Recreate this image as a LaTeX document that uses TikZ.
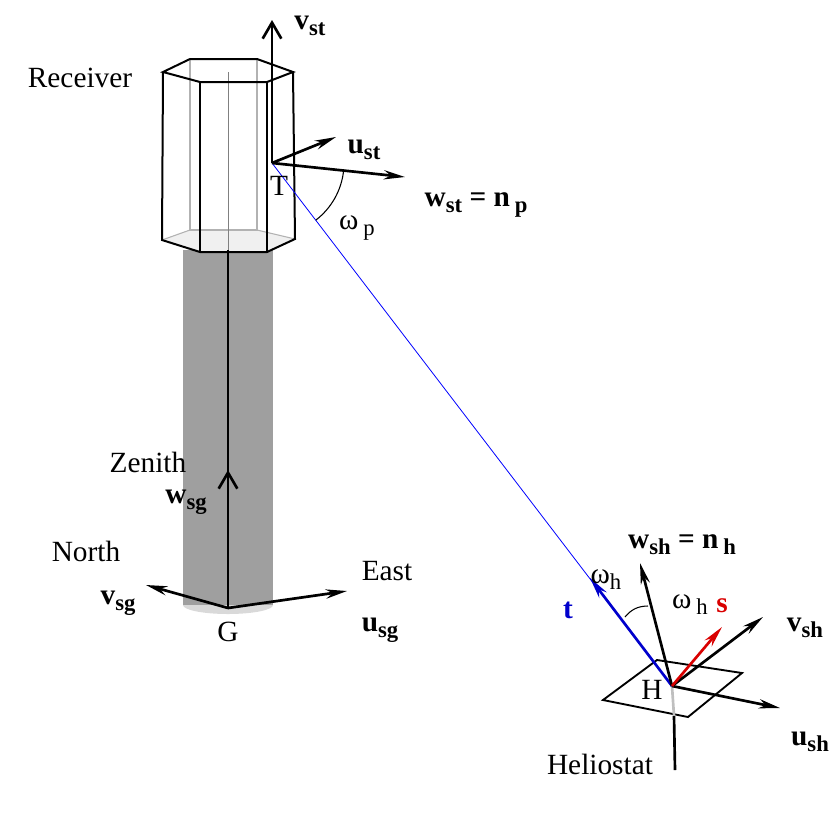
\documentclass[tikz,border=0pt]{standalone}
\usepackage{fontspec}
\setmainfont{Liberation Serif}
\usetikzlibrary{arrows.meta,calc}
\newcommand{\sbx}[1]{\raisebox{-0.45ex}{\fontsize{17}{20}\selectfont #1}}
\begin{document}
\begin{tikzpicture}[x=0.75pt,y=-0.75pt,
  vec/.style={line width=2pt,-{Stealth[length=16pt,width=7pt]}},
  bar/.style={line width=2pt,-{Straight Barb[length=12pt,width=14pt,line width=2pt]}},
  edge/.style={line width=1.5pt},
  back/.style={line width=0.8pt,gray!60},
  lab/.style={font=\fontsize{22}{26}\selectfont},
  blab/.style={font=\fontsize{22}{26}\selectfont\bfseries}]
\useasboundingbox (0,0) rectangle (838,819);
% tower
\fill[gray!75] (183,250) rectangle (273,605);
\fill[gray!30] (228,605) ellipse (45 and 9);
\fill[gray!75] (183,596) rectangle (273,605);
% receiver bottom fill
\fill[gray!12] (162,240) -- (190,230) -- (257,230) -- (295,239) -- (267,252) -- (200,252) -- cycle;
\draw[back] (190,59) -- (190,230) -- (257,230) -- (257,59);
\draw[back] (162,240) -- (190,230); \draw[back] (257,230) -- (295,239);
\draw[gray,line width=0.6pt] (228,72) -- (228,250);
\draw[line width=1pt] (228,250) -- (228,608);
\draw[edge] (163,72) -- (190,59) -- (257,59) -- (293,72) -- (267,82) -- (200,82) -- cycle;
\draw[edge] (163,72) -- (162,240) -- (200,252) -- (267,252) -- (295,239) -- (293,72);
\draw[edge] (200,82) -- (200,252); \draw[edge] (267,82) -- (267,252);
% points
\coordinate (G) at (228,608);
\coordinate (T) at (272,163);
\coordinate (H) at (672,686);
\draw[blue,line width=0.6pt] (T) -- (H);
% ground frame
\coordinate (wsg) at (228,470);
\coordinate (vsg) at (146,585);
\coordinate (usg) at (347,591);
\draw[bar] (G) -- (wsg);
\draw[vec] (G) -- (vsg);
\draw[vec] (G) -- (usg);
\node[lab] (Glab) at (228,632) {G};
\node[blab] (wsgl) at (186,502) {w\sbx{sg}};
\node[lab] (zen) at (148,462) {Zenith};
\node[blab] (vsgl) at (118,603) {v\sbx{sg}};
\node[lab] (north) at (86,551) {North};
\node[blab] (usgl) at (380,630) {u\sbx{sg}};
\node[lab] (east) at (387,571) {East};
% tower frame
\coordinate (vst) at (272,20);
\coordinate (ust) at (336,137);
\coordinate (wst) at (405,177);
\draw[bar] (T) -- (vst);
\draw[vec] (T) -- (ust);
\draw[vec] (T) -- (wst);
\draw[line width=0.8pt] (T) ++(6:72) arc[start angle=6, end angle=52.6, radius=72];
\node[lab] (Tlab) at (279,186) {T};
\node[blab] (vstl) at (310,26) {v\sbx{st}};
\node[blab] (ustl) at (364,150) {u\sbx{st}};
\node[blab] (wstl) at (476,205) {w\sbx{st} = n\,\sbx{p}};
\node[lab] (omp) at (357,228) {ω\,\sbx{p}};
\node[lab] (rec) at (80,78) {Receiver};
% heliostat
\draw[line width=1.4pt] (603,700) -- (657,660) -- (742,673) -- (688,717) -- cycle;
\draw[gray!50,line width=2pt] (H) -- (674,716);
\draw[line width=2pt] (674,716) -- (675,770);
\coordinate (t) at (590,578);
\coordinate (wsh) at (640,563);
\coordinate (s) at (722,627);
\coordinate (vsh) at (763,617);
\coordinate (ush) at (780,708);
\draw[vec,blue!80!black] (H) -- (t);
\draw[vec] (H) -- (wsh);
\draw[vec] (H) -- (vsh);
\draw[vec] (H) -- (ush);
\draw[vec,red!85!black] (H) -- (s);
\draw[line width=0.8pt] (625,617) to[bend left=25] (648,606);
\node[lab] (Hlab) at (652,690) {H};
\node[blab,blue!80!black] (tl) at (568,610) {t};
\node[blab] (wshl) at (682,545) {w\sbx{sh} = n\,\sbx{h}};
\node[lab] (omh1) at (606,580) {ω\sbx{h}};
\node[lab] (omh2) at (690,605) {ω\,\sbx{h}};
\node[blab,red!85!black] (sl) at (722,606) {s};
\node[blab] (vshl) at (805,628) {v\sbx{sh}};
\node[blab] (ushl) at (810,742) {u\sbx{sh}};
\node[lab] (hel) at (600,764) {Heliostat};
\end{tikzpicture}
\end{document}
